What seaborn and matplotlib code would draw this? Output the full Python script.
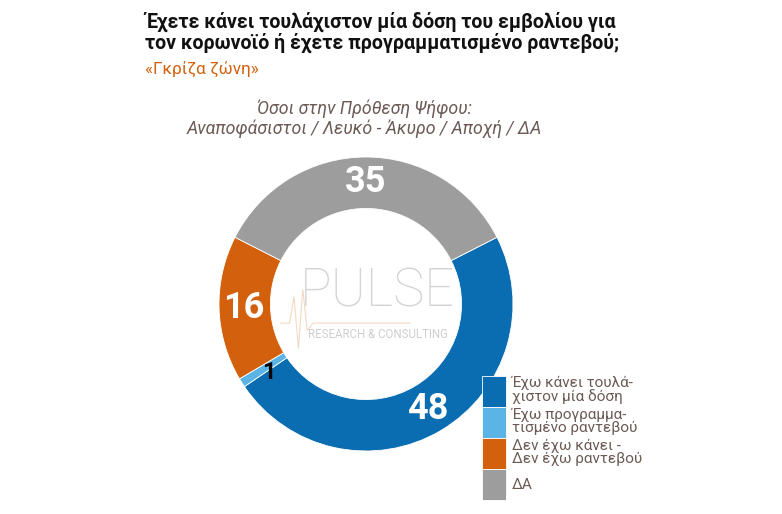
import matplotlib
matplotlib.use("Agg")
import numpy as np
import seaborn as sns
import matplotlib.pyplot as plt

# data
categories = ["Έχω κάνει τουλά-\nχιστον μία δόση",
              "Έχω προγραμμα-\nτισμένο ραντεβού",
              "Δεν έχω κάνει -\nΔεν έχω ραντεβού",
              "ΔΑ"]
values = [48, 1, 16, 35]
colors = ["#0A6DB1", "#5AB4E6", "#D2600C", "#9D9D9D"]
label_colors = ["white", "black", "white", "white"]

title = "Έχετε κάνει τουλάχιστον μία δόση του εμβολίου για\nτον κορωνοϊό ή έχετε προγραμματισμένο ραντεβού;"
subtitle = "«Γκρίζα ζώνη»"
note = "Όσοι στην Πρόθεση Ψήφου:\nΑναποφάσιστοι / Λευκό - Άκυρο / Αποχή / ΔΑ"

W, H = 782, 514


def main():
    sns.set_theme(style="white")
    plt.rcParams['font.family'] = ['Roboto', 'DejaVu Sans']

    fig = plt.figure(figsize=(W / 100, H / 100), dpi=100)
    fig.patch.set_facecolor("white")

    # donut, centre (366, 304), outer radius 147 px
    cx, cy, R = 366, 304, 147
    ax = fig.add_axes([(cx - R) / W, 1 - (cy + R) / H, 2 * R / W, 2 * R / H])
    start = 27
    wedges, _ = ax.pie(values, colors=colors, startangle=start, counterclock=False,
                       radius=1.0, wedgeprops=dict(width=0.35, edgecolor="white", linewidth=0.6))
    ax.set_xlim(-1.0, 1.0)
    ax.set_ylim(-1.0, 1.0)
    ax.set_aspect("equal")

    ang = float(start)
    for v, lc in zip(values, label_colors):
        mid = np.deg2rad(ang - v * 3.6 / 2)
        r = 0.78 if v == 1 else 0.83
        ax.text(r * np.cos(mid), r * np.sin(mid) - (0.05 if v == 1 else 0), str(v),
                ha="center", va="center", color=lc,
                fontsize=26 if v > 1 else 17, fontweight="bold")
        ang -= v * 3.6

    # watermark
    ax.text(0.08, 0.08, "PULSE", ha="center", va="center", fontsize=38,
            color="#D4D4D4", fontweight="light")
    ax.text(0.08, -0.21, "RESEARCH & CONSULTING", ha="center", va="center",
            fontsize=8.3, color="#CFCFCF")
    ax.plot([-0.58, -0.52, -0.49, -0.46, -0.43, -0.40, -0.36, 0.30],
            [-0.13, -0.13, 0.05, -0.30, 0.10, -0.18, -0.13, -0.13],
            color="#F2D9C2", lw=0.8)

    # titles
    fig.text(145 / W, 1 - 12 / H, title, ha="left", va="top", fontsize=14.1,
             fontweight="bold", color="#111111", linespacing=1.05)
    fig.text(145 / W, 1 - 61 / H, subtitle, ha="left", va="top", fontsize=12.3,
             color="#D2600C")
    fig.text(364 / W, 1 - 99 / H, note, ha="center", va="top", fontsize=12.8,
             color="#6B5A55", style="italic", linespacing=1.15)

    # legend
    leg = fig.legend(wedges, categories, loc="upper left",
                     bbox_to_anchor=(474 / W, 1 - 368 / H), frameon=False,
                     fontsize=11, handlelength=1.6, handleheight=2.75,
                     handletextpad=0.4, labelspacing=0.0, borderpad=0)
    for t in leg.get_texts():
        t.set_color("#6B5A55")
        t.set_linespacing(0.95)

    fig.savefig("out.png", dpi=100, facecolor="white")


if __name__ == "__main__":
    main()
